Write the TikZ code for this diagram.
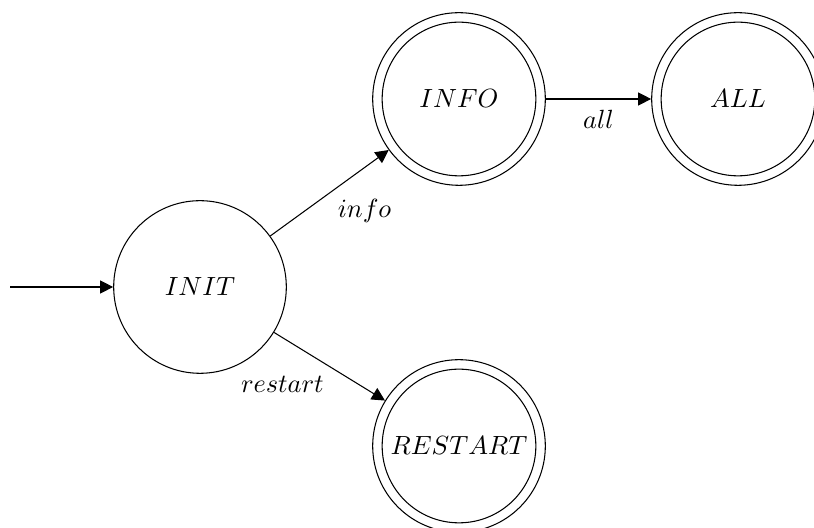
\documentclass[tikz,border=0pt]{standalone}
\usetikzlibrary{arrows.meta,positioning}
\begin{document}
\begin{tikzpicture}[x=0.38pt,y=-0.38pt,
    every node/.style={inner sep=0pt},
    statenode/.style={circle, draw, minimum size=65.6pt},
    edge/.style={-{Triangle[length=5pt,width=5pt]}},
    lbl/.style={font=\normalsize}]
  \useasboundingbox (0,0) rectangle (814,528);

  % states
  \node[statenode] (init) at (200,287) {$INIT$};
  \node[statenode] (info) at (459,99) {$INFO$};
  \node[statenode] (all) at (738,99) {$ALL$};
  \node[statenode] (restart) at (459,446) {$RESTART$};

  % inner rings of the accepting states
  \foreach \s in {info,all,restart}
    \draw (\s.center) circle[radius=29.2pt];

  % initial arrow
  \coordinate (start) at (10,287);
  \draw[edge] (start) -- (init);

  % transitions
  \draw[edge] (init) -- node[lbl, below right=2pt and 3pt] {$info$} (info);
  \draw[edge] (info) -- node[lbl, below=4pt] {$all$} (all);
  \draw[edge] (init) -- node[lbl, below left=3.5pt and 2pt] {$restart$} (restart);
\end{tikzpicture}
\end{document}
